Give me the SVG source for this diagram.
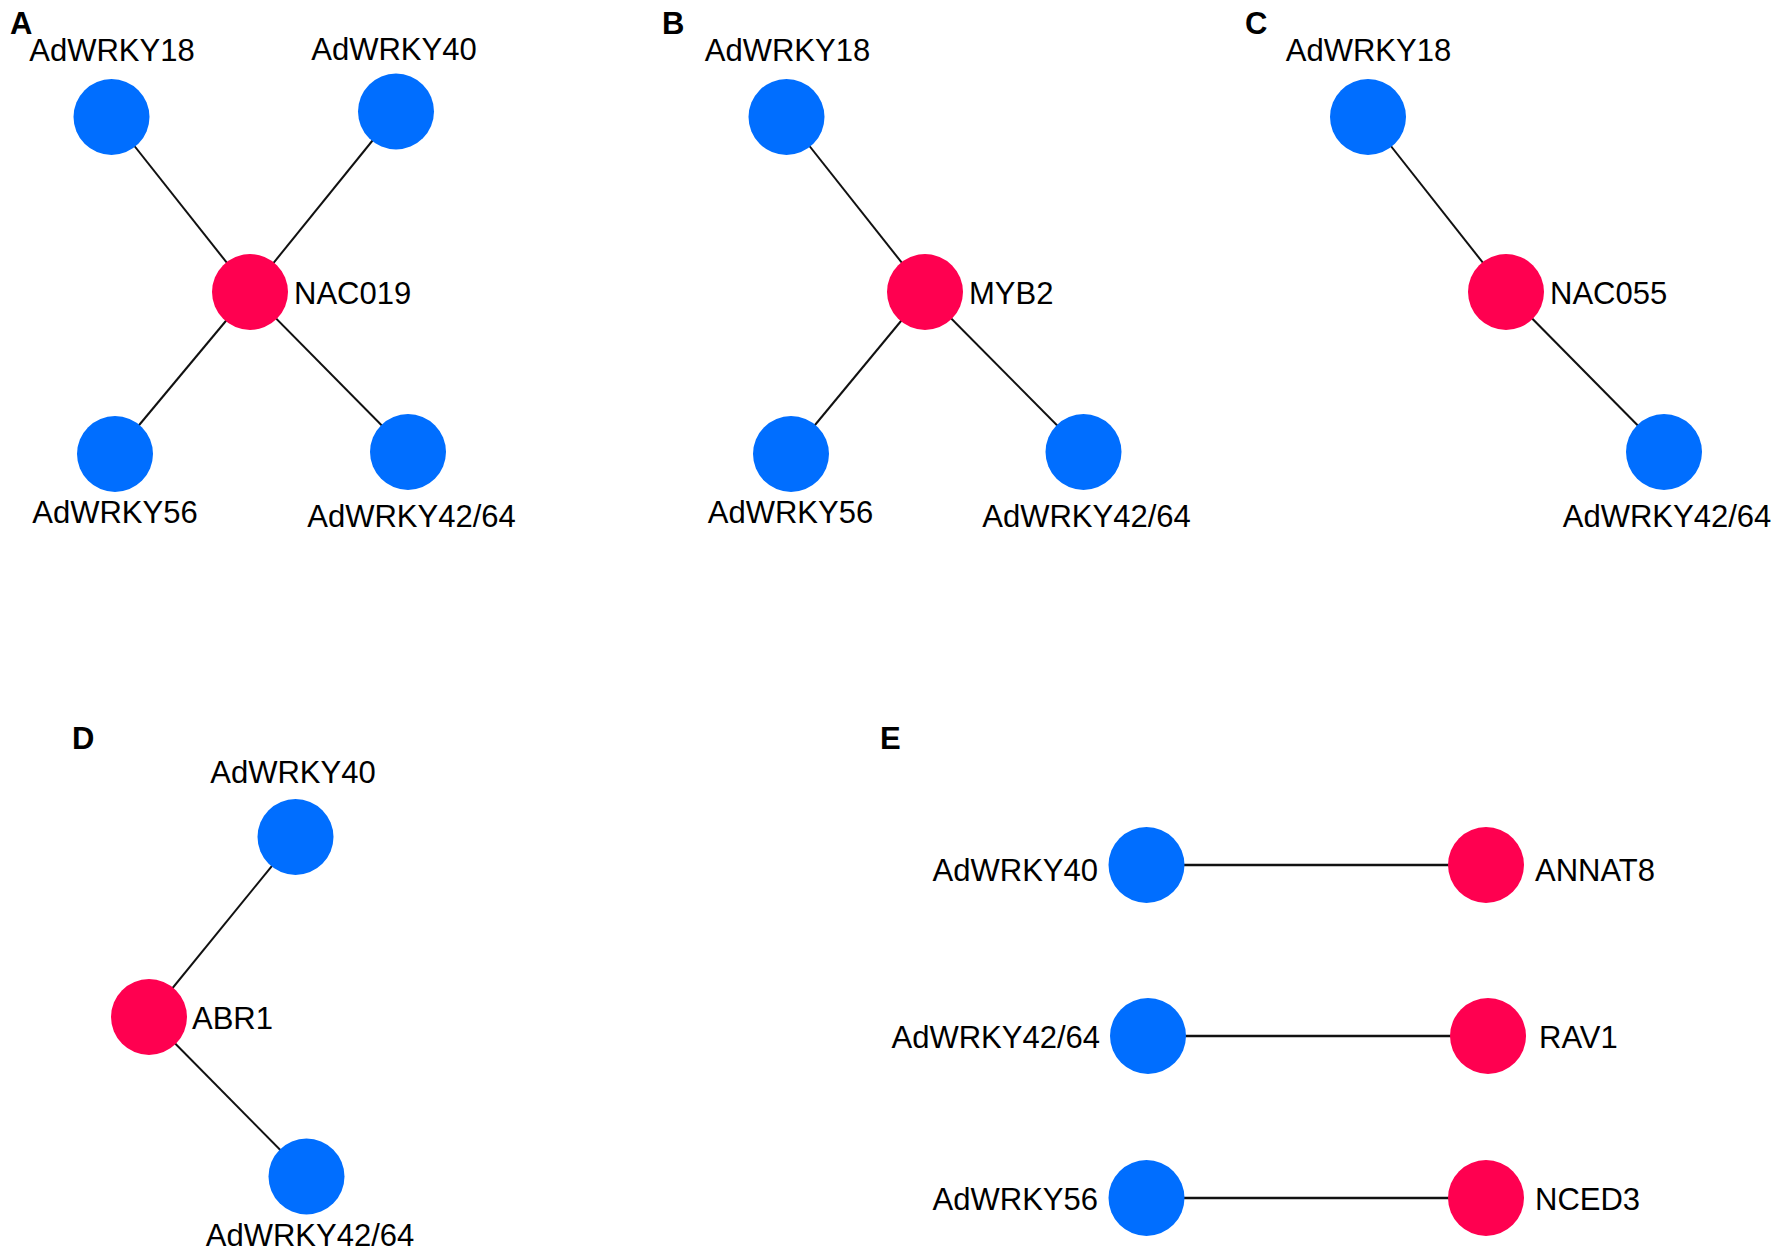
<svg xmlns="http://www.w3.org/2000/svg" width="1775" height="1254" viewBox="0 0 1775 1254">
<style>
.bg{fill:#ffffff}
.b{fill:#006EFF}
.r{fill:#FF0050}
.e{stroke:#111111;stroke-width:2;fill:none}
.e2{stroke:#111111;stroke-width:2.5;fill:none}
text{font-family:"Liberation Sans",Arial,sans-serif;font-size:31px;fill:#000000}
.m{text-anchor:middle}
.s{text-anchor:start}
.n{text-anchor:end}
.p{font-weight:bold;font-size:31px}
</style>
<rect class="bg" x="0" y="0" width="1775" height="1254"/>
<g id="panel-labels">
<text class="p" x="10" y="34">A</text>
<text class="p" x="662" y="34">B</text>
<text class="p" x="1245" y="34">C</text>
<text class="p" x="72" y="749">D</text>
<text class="p" x="880" y="749">E</text>
</g>
<g id="connectors">
<line class="e" x1="250" y1="292" x2="111.5" y2="117"/>
<line class="e" x1="250" y1="292" x2="396" y2="111.5"/>
<line class="e" x1="250" y1="292" x2="115" y2="454"/>
<line class="e" x1="250" y1="292" x2="408" y2="452"/>
<line class="e" x1="925" y1="292" x2="786.5" y2="117"/>
<line class="e" x1="925" y1="292" x2="791" y2="454"/>
<line class="e" x1="925" y1="292" x2="1083.5" y2="452"/>
<line class="e" x1="1506" y1="292" x2="1368" y2="117"/>
<line class="e" x1="1506" y1="292" x2="1664" y2="452"/>
<line class="e" x1="149" y1="1017" x2="295.5" y2="837"/>
<line class="e" x1="149" y1="1017" x2="306.5" y2="1176.5"/>
<line class="e2" x1="1146.5" y1="865" x2="1486" y2="865"/>
<line class="e2" x1="1148" y1="1036" x2="1488" y2="1036"/>
<line class="e2" x1="1146.5" y1="1198" x2="1486" y2="1198"/>
</g>
<g id="A-AdWRKY18"><circle class="b" cx="111.5" cy="117" r="38"/><text class="m" x="112" y="61">AdWRKY18</text></g>
<g id="A-AdWRKY40"><circle class="b" cx="396" cy="111.5" r="38"/><text class="m" x="394" y="60">AdWRKY40</text></g>
<g id="A-NAC019"><circle class="r" cx="250" cy="292" r="38"/><text class="s" x="294" y="304">NAC019</text></g>
<g id="A-AdWRKY56"><circle class="b" cx="115" cy="454" r="38"/><text class="m" x="115" y="523">AdWRKY56</text></g>
<g id="A-AdWRKY42-64"><circle class="b" cx="408" cy="452" r="38"/><text class="m" x="411.5" y="527">AdWRKY42/64</text></g>
<g id="B-AdWRKY18"><circle class="b" cx="786.5" cy="117" r="38"/><text class="m" x="787.5" y="61">AdWRKY18</text></g>
<g id="B-MYB2"><circle class="r" cx="925" cy="292" r="38"/><text class="s" x="969" y="304">MYB2</text></g>
<g id="B-AdWRKY56"><circle class="b" cx="791" cy="454" r="38"/><text class="m" x="790.5" y="523">AdWRKY56</text></g>
<g id="B-AdWRKY42-64"><circle class="b" cx="1083.5" cy="452" r="38"/><text class="m" x="1086.5" y="527">AdWRKY42/64</text></g>
<g id="C-AdWRKY18"><circle class="b" cx="1368" cy="117" r="38"/><text class="m" x="1368.5" y="61">AdWRKY18</text></g>
<g id="C-NAC055"><circle class="r" cx="1506" cy="292" r="38"/><text class="s" x="1550" y="304">NAC055</text></g>
<g id="C-AdWRKY42-64"><circle class="b" cx="1664" cy="452" r="38"/><text class="m" x="1667" y="527">AdWRKY42/64</text></g>
<g id="D-AdWRKY40"><circle class="b" cx="295.5" cy="837" r="38"/><text class="m" x="293" y="783">AdWRKY40</text></g>
<g id="D-ABR1"><circle class="r" cx="149" cy="1017" r="38"/><text class="s" x="192" y="1029">ABR1</text></g>
<g id="D-AdWRKY42-64"><circle class="b" cx="306.5" cy="1176.5" r="38"/><text class="m" x="310" y="1246">AdWRKY42/64</text></g>
<g id="E-AdWRKY40"><circle class="b" cx="1146.5" cy="865" r="38"/><text class="n" x="1098" y="881">AdWRKY40</text></g>
<g id="E-ANNAT8"><circle class="r" cx="1486" cy="865" r="38"/><text class="s" x="1535" y="881">ANNAT8</text></g>
<g id="E-AdWRKY42-64"><circle class="b" cx="1148" cy="1036" r="38"/><text class="n" x="1100" y="1048">AdWRKY42/64</text></g>
<g id="E-RAV1"><circle class="r" cx="1488" cy="1036" r="38"/><text class="s" x="1539" y="1048">RAV1</text></g>
<g id="E-AdWRKY56"><circle class="b" cx="1146.5" cy="1198" r="38"/><text class="n" x="1098" y="1210">AdWRKY56</text></g>
<g id="E-NCED3"><circle class="r" cx="1486" cy="1198" r="38"/><text class="s" x="1535" y="1210">NCED3</text></g>
</svg>
